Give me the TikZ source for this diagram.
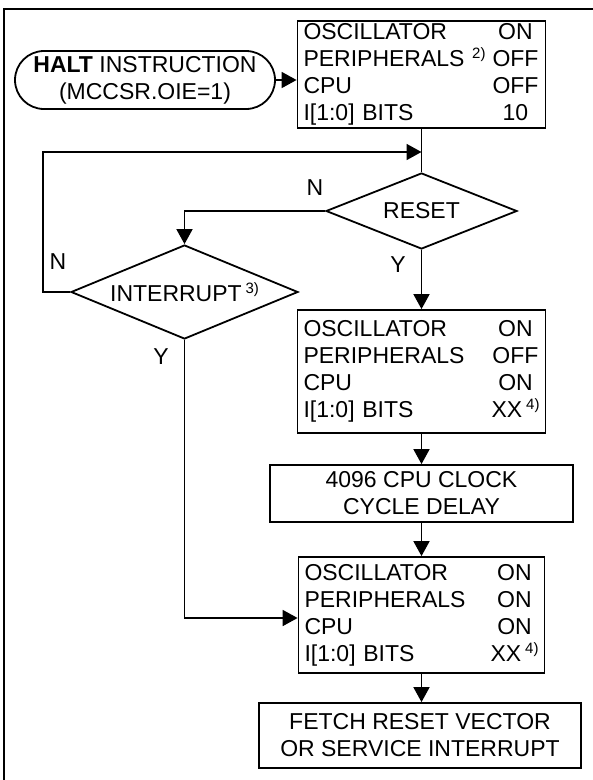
\documentclass[tikz,border=0pt]{standalone}
\usepackage{fontspec}
\setmainfont{Liberation Sans}
\usetikzlibrary{arrows.meta,shapes.geometric}
\newcommand{\sn}[1]{\raisebox{8pt}{\fontsize{15}{15}\selectfont #1}}
\newcommand{\val}[1]{\makebox[48pt]{#1}}
\begin{document}
\begin{tikzpicture}[x=1pt,y=-1pt,
  every node/.style={font=\fontsize{23}{27}\selectfont, inner sep=0pt},
  ln/.style={line width=1.8pt},
  arr/.style={ln,-{Triangle[length=15pt,width=16pt]}},
  statebox/.style={draw,ln,rectangle,inner sep=0pt,inner xsep=6pt,align=left,minimum height=#1},
  plainbox/.style={draw,ln,rectangle,inner sep=0pt,align=center},
  haltbox/.style={draw,ln,rectangle,rounded corners=29pt,minimum width=260pt,minimum height=58pt,align=center},
  decision/.style={draw,ln,diamond,aspect=2.5,inner sep=0pt},
  lbl/.style={inner sep=0pt}]
\useasboundingbox (0,0) rectangle (593,780);
% outer frame
\draw[ln] (600,9) -- (4,9) -- (4,790);

\node[haltbox] (halt) at (145,80) {\textbf{HALT} INSTRUCTION\\(MCCSR.OIE=1)};

\node[statebox=107pt, text width=236pt] (b1) at (421.5,74.5)
  {OSCILLATOR\hfill\val{ON}\\
   PERIPHERALS \sn{2)}\hfill\val{OFF}\\
   CPU\hfill\val{OFF}\\
   I[1:0] BITS\hfill\val{10}};

\node[decision, minimum width=191pt, minimum height=76pt] (reset) at (421.5,211) {RESET};
\node[decision, minimum width=227pt, minimum height=94pt] (intr) at (184.5,292) {INTERRUPT\,\sn{3)}};

\node[statebox=123pt, text width=236pt] (b2) at (421.5,371.5)
  {OSCILLATOR\hfill\val{ON}\\
   PERIPHERALS\hfill\val{OFF}\\
   CPU\hfill\val{ON}\\
   I[1:0] BITS\hfill\makebox[48pt][r]{XX\,\sn{4)}}};

\node[plainbox, minimum width=303pt, minimum height=57pt] (delay) at (421.5,493.5) {4096 CPU CLOCK\\CYCLE DELAY};

\node[statebox=116pt, text width=234pt] (b3) at (421.5,615)
  {OSCILLATOR\hfill\val{ON}\\
   PERIPHERALS\hfill\val{ON}\\
   CPU\hfill\val{ON}\\
   I[1:0] BITS\hfill\makebox[48pt][r]{XX\,\sn{4)}}};

\node[plainbox, minimum width=322pt, minimum height=65pt] (fetch) at (420,735.5) {FETCH RESET VECTOR\\OR SERVICE INTERRUPT};

% labels
\node[lbl] (n1) at (315,188) {N};
\node[lbl] (y1) at (398,265) {Y};
\node[lbl] (n2) at (58,262) {N};
\node[lbl] (y2) at (161,357) {Y};

% coordinates
\coordinate (j1) at (421.5,152);
\coordinate (lp) at (43,152);
\coordinate (yc) at (184.5,618);

% connectors
\draw[arr] (halt.east) -- (halt.east -| b1.west);
\draw[ln] (b1.south) -- (reset.north);
\draw[arr] (intr.west) -| (lp) -- (j1);
\draw[arr] (reset.west) -| (intr.north);
\draw[arr] (reset.south) -- (b2.north);
\draw[arr] (b2.south) -- (delay.north);
\draw[arr] (delay.south) -- (b3.north);
\draw[arr] (b3.south) -- (b3.south |- fetch.north);
\draw[arr] (intr.south) -- (yc) -- (yc -| b3.west);
\end{tikzpicture}
\end{document}
